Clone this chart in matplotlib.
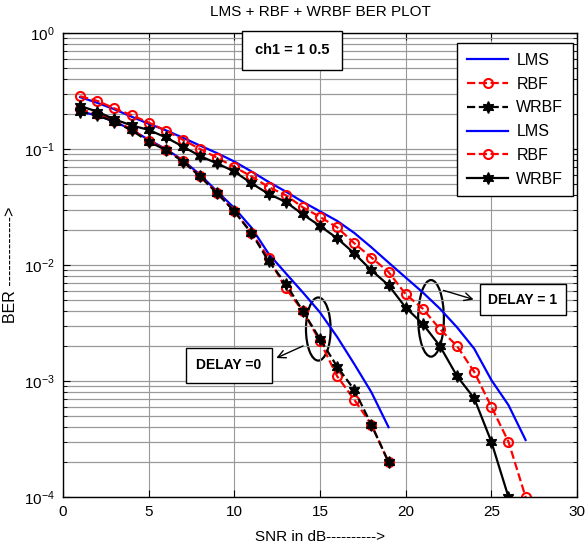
import matplotlib
matplotlib.use("Agg")
import matplotlib.pyplot as plt
from matplotlib.patches import Ellipse
import numpy as np

plt.rcParams['font.family'] = ['Liberation Sans', 'DejaVu Sans']

# ---------------- data ----------------
snr_d0 = list(range(1, 20))
lms_d0 = [0.21, 0.195, 0.172, 0.147, 0.12, 0.1, 0.08, 0.06, 0.043, 0.031, 0.021,
          0.0125, 0.0085, 0.0058, 0.0039, 0.0024, 0.0014, 0.0008, 0.0004]
rbf_d0 = [0.22, 0.2, 0.175, 0.148, 0.118, 0.099, 0.079, 0.058, 0.042, 0.029, 0.019,
          0.0115, 0.0063, 0.004, 0.0022, 0.0011, 0.00069, 0.00042, 0.0002]
wrbf_d0 = [0.21, 0.195, 0.172, 0.145, 0.116, 0.098, 0.078, 0.058, 0.0415, 0.029, 0.0188,
           0.0108, 0.0069, 0.004, 0.0023, 0.00133, 0.00084, 0.00042, 0.0002]

snr_lms_d1 = list(range(1, 28))
lms_d1 = [0.28, 0.25, 0.22, 0.19, 0.165, 0.145, 0.125, 0.107, 0.092, 0.078, 0.064,
          0.052, 0.043, 0.035, 0.029, 0.024, 0.0189, 0.0142, 0.0105, 0.0078, 0.0058,
          0.0042, 0.0029, 0.0019, 0.00102, 0.00062, 0.00031]
snr_rbf_d1 = list(range(1, 28))
rbf_d1 = [0.285, 0.26, 0.224, 0.196, 0.169, 0.144, 0.12, 0.1, 0.084, 0.07, 0.058,
          0.047, 0.04, 0.0314, 0.026, 0.0211, 0.0154, 0.0116, 0.0087, 0.0056, 0.0042,
          0.0028, 0.002, 0.0012, 0.0006, 0.0003, 0.0001]
snr_wrbf_d1 = list(range(1, 27))
wrbf_d1 = [0.235, 0.21, 0.18, 0.16, 0.146, 0.126, 0.105, 0.087, 0.075, 0.064, 0.0506,
           0.041, 0.035, 0.0273, 0.0217, 0.017, 0.0126, 0.009, 0.0067, 0.0043, 0.0031,
           0.002, 0.0011, 0.00071, 0.0003, 0.0001]

legend_labels = ['LMS', 'RBF', 'WRBF', 'LMS', 'RBF', 'WRBF']
title = 'LMS + RBF + WRBF BER PLOT'

# ---------------- figure ----------------
fig = plt.figure(figsize=(5.88, 5.52), dpi=100)
ax = fig.add_axes([63/588, 55/552, 514/588, 464/552])

hexa = (6, 1, 0)
ax.semilogy(snr_d0, lms_d0, '-', color='blue', lw=1.6, label=legend_labels[0])
ax.semilogy(snr_d0, rbf_d0, '--', color='red', lw=1.6, marker='o', ms=6.5,
            mfc='none', mec='red', mew=1.5, label=legend_labels[1])
ax.semilogy(snr_d0, wrbf_d0, '--', color='black', lw=1.6, marker=hexa, ms=8.5,
            mfc='black', mec='black', label=legend_labels[2])
ax.semilogy(snr_lms_d1, lms_d1, '-', color='blue', lw=1.6, label=legend_labels[3])
ax.semilogy(snr_rbf_d1, rbf_d1, '--', color='red', lw=1.6, marker='o', ms=6.5,
            mfc='none', mec='red', mew=1.5, label=legend_labels[4])
ax.semilogy(snr_wrbf_d1, wrbf_d1, '-', color='black', lw=1.6, marker=hexa, ms=8.5,
            mfc='black', mec='black', label=legend_labels[5])

ax.set_xlim(0, 30)
ax.set_ylim(1e-4, 1)
ax.set_xticks([0, 5, 10, 15, 20, 25, 30])
ax.grid(True, which='major', axis='x', color='#999999', lw=0.8)
ax.grid(True, which='both', axis='y', color='#999999', lw=0.9)
ax.tick_params(which='both', direction='in', top=True, right=True, labelsize=11)
ax.tick_params(which='major', length=5, pad=6)
ax.tick_params(which='minor', length=3)
for s in ax.spines.values():
    s.set_linewidth(1.0)

ax.set_title(title, fontsize=11, pad=12)
ax.set_xlabel('SNR in dB---------->', fontsize=11, labelpad=8)
ax.set_ylabel('BER ------------->', fontsize=11.5)

leg = ax.legend(loc='upper right', bbox_to_anchor=(0.992, 0.978), fontsize=11.5,
                fancybox=False, framealpha=1, edgecolor='black', handlelength=2.6,
                handletextpad=0.5, labelspacing=0.55, borderpad=0.6, borderaxespad=0)
leg.get_frame().set_linewidth(1.0)

# annotation boxes
ax.text(0.4455, 0.963, 'ch1 = 1 0.5', transform=ax.transAxes, fontsize=10.5,
        fontweight='bold', ha='center', va='center',
        bbox=dict(boxstyle='square,pad=0.85', fc='white', ec='black', lw=1.0))
ax.text(0.323, 0.284, 'DELAY =0', transform=ax.transAxes, fontsize=10,
        fontweight='bold', ha='center', va='center',
        bbox=dict(boxstyle='square,pad=0.75', fc='white', ec='black', lw=1.0))
ax.text(0.895, 0.425, 'DELAY = 1', transform=ax.transAxes, fontsize=10,
        fontweight='bold', ha='center', va='center',
        bbox=dict(boxstyle='square,pad=0.6', fc='white', ec='black', lw=1.0))

ax.add_patch(Ellipse((0.4967, 0.362), 0.048, 0.136, transform=ax.transAxes,
                     fill=False, ec='black', lw=1.6))
ax.add_patch(Ellipse((0.716, 0.385), 0.05, 0.165, transform=ax.transAxes,
                     fill=False, ec='black', lw=1.6))

ax.annotate('', xy=(0.41, 0.297), xytext=(0.472, 0.328), xycoords='axes fraction',
            arrowprops=dict(arrowstyle='->', color='black', lw=1.0, mutation_scale=14))
ax.annotate('', xy=(0.804, 0.424), xytext=(0.735, 0.447), xycoords='axes fraction',
            arrowprops=dict(arrowstyle='->', color='black', lw=1.0, mutation_scale=14))

fig.savefig('out.png', dpi=100)
